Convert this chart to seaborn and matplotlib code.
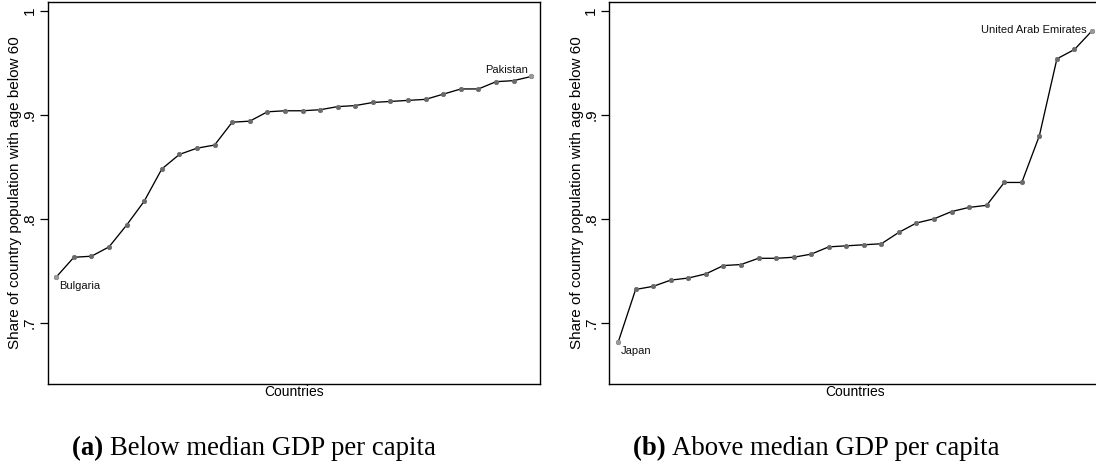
import numpy as np
import pandas as pd
import matplotlib
matplotlib.use("Agg")
import matplotlib.pyplot as plt
import seaborn as sns

# ---- data ----
below_share = [0.744, 0.763, 0.764, 0.773, 0.794, 0.817, 0.848, 0.862, 0.868, 0.871,
               0.893, 0.894, 0.903, 0.904, 0.904, 0.905, 0.908, 0.909, 0.912, 0.913,
               0.914, 0.915, 0.920, 0.925, 0.925, 0.932, 0.933, 0.937]
above_share = [0.681, 0.732, 0.735, 0.741, 0.743, 0.747, 0.755, 0.756, 0.762, 0.762,
               0.763, 0.766, 0.773, 0.774, 0.775, 0.776, 0.787, 0.796, 0.800, 0.807,
               0.811, 0.813, 0.835, 0.835, 0.880, 0.954, 0.963, 0.981]
below_labels = {"first": "Bulgaria", "last": "Pakistan"}
above_labels = {"first": "Japan", "last": "United Arab Emirates"}
ytick_vals = [0.7, 0.8, 0.9, 1.0]
ytick_text = [".7", ".8", ".9", "1"]
ylabel_text = "Share of country population with age below 60"
xlabel_text = "Countries"
cap_a = ("(a)", "Below median GDP per capita")
cap_b = ("(b)", "Above median GDP per capita")

sns.set_style("white")
plt.rcParams['font.family'] = ['Liberation Sans', 'DejaVu Sans']
plt.rcParams['text.color'] = 'black'
plt.rcParams['axes.labelcolor'] = 'black'
plt.rcParams['xtick.color'] = 'black'
plt.rcParams['ytick.color'] = 'black'

W, H = 1096, 465
fig = plt.figure(figsize=(W / 100, H / 100), dpi=100)

def px_axes(x0, x1, ytop, ybot):
    return fig.add_axes([x0 / W, (H - ybot) / H, (x1 - x0) / W, (ybot - ytop) / H])

ax1 = px_axes(47.5, 540, 2, 384)
ax2 = px_axes(609.3, 1100.8, 2, 384)

def draw(ax, vals, labels, first_off, last_off):
    df = pd.DataFrame({"idx": np.arange(1, len(vals) + 1), "share": vals})
    sns.lineplot(data=df, x="idx", y="share", ax=ax, color="black", lw=0.95,
                 marker="o", markersize=3.2, markerfacecolor="#6a6a6a",
                 markeredgecolor="#6a6a6a", markeredgewidth=0.5)
    ends = df.iloc[[0, -1]]
    sns.scatterplot(data=ends, x="idx", y="share", ax=ax, color="#9a9a9a",
                    s=12, edgecolor="#9a9a9a", linewidth=0, zorder=5)
    ax.annotate(labels["first"], (df.idx.iloc[0], df.share.iloc[0]),
                xytext=first_off, textcoords="offset points",
                ha="left", va="center", fontsize=8, color="#111111")
    ax.annotate(labels["last"], (df.idx.iloc[-1], df.share.iloc[-1]),
                xytext=last_off, textcoords="offset points",
                ha="right", va="center", fontsize=8, color="#111111")
    ax.set_xlim(0.5, len(vals) + 0.5)
    ax.set_ylim(0.641, 1.0087)
    ax.set_xticks([])
    ax.set_yticks(ytick_vals)
    ax.set_yticklabels(ytick_text, rotation=90, va="center", fontsize=11)
    ax.tick_params(axis="y", direction="out", length=6, width=0.9, pad=2,
                   left=True)
    ax.set_ylabel(ylabel_text, fontsize=11, va="center")
    ax.yaxis.set_label_coords(-32.5 / 492.5, 0.5)
    ax.set_xlabel(xlabel_text, fontsize=10, labelpad=1)
    for s in ax.spines.values():
        s.set_visible(True)
        s.set_color("black")
        s.set_linewidth(1.0)
    ax.set_facecolor("white")

draw(ax1, below_share, below_labels, (2, -6.8), (-2, 5))
draw(ax2, above_share, above_labels, (2, -6.5), (-4, 0.5))

serif = ['Liberation Serif', 'DejaVu Serif']

def caption(xc, tag, text):
    fig.canvas.draw()
    r = fig.canvas.get_renderer()
    t1 = fig.text(0, 0, tag + " ", family=serif, weight="bold", fontsize=19.3)
    t2 = fig.text(0, 0, text, family=serif, fontsize=19.3)
    w1 = t1.get_window_extent(r).width
    w2 = t2.get_window_extent(r).width
    left = xc - (w1 + w2) / 2
    yb = (H - 455) / H
    t1.set_position((left / W, yb)); t1.set_va("baseline")
    t2.set_position(((left + w1) / W, yb)); t2.set_va("baseline")

caption(254, *cap_a)
caption(816.5, *cap_b)

fig.savefig("out.png", dpi=100, facecolor="white")
